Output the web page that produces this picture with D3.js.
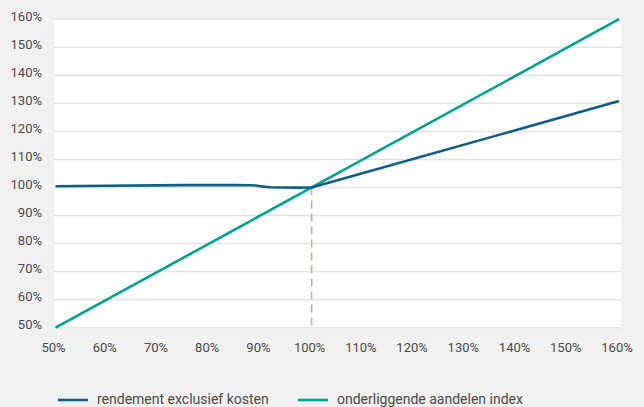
<!DOCTYPE html>
<html>
<head>
<meta charset="utf-8">
<script src="https://cdn.jsdelivr.net/npm/d3@7"></script>
<style>
  html, body { margin: 0; padding: 0; background: #f1f1f1; }
  svg { display: block; }
  text { font-family: Roboto, "Liberation Sans", sans-serif; fill: #4a4a4a; }
</style>
</head>
<body>
<svg id="chart" width="644" height="407"></svg>
<script>
// Underlying index level (x) versus outcome (y), both in percent
const xTicks = [50, 60, 70, 80, 90, 100, 110, 120, 130, 140, 150, 160];
const yTicks = [50, 60, 70, 80, 90, 100, 110, 120, 130, 140, 150, 160];

// Return excluding costs: capital protected below 100%, partial participation above
const rendementX = [50, 60, 70, 75, 80, 85, 88, 89, 90, 91, 92, 94, 97, 100, 160];
const rendementY = [100.45, 100.6, 100.75, 100.85, 100.85, 100.85, 100.8, 100.7, 100.45, 100.2, 100.08, 100.0, 99.95, 100, 130.8];

// Underlying equity index: one-to-one
const indexX = [50, 160];
const indexY = [50, 160];

const seriesNames = ["rendement exclusief kosten", "onderliggende aandelen index"];
const seriesColors = ["#0f5f84", "#00a38b"];

const svg = d3.select("#chart");
const plot = { left: 54, right: 621, top: 19, bottom: 328 };

const x = d3.scaleLinear().domain([50, 160]).range([55.5, 619]);
const y = d3.scaleLinear().domain([50, 160]).range([327.7, 19.2]);

// White plot background
svg.append("rect")
  .attr("x", plot.left).attr("y", plot.top)
  .attr("width", plot.right - plot.left).attr("height", plot.bottom - plot.top)
  .attr("fill", "#ffffff");

// Horizontal gridlines
svg.append("g").selectAll("line").data(yTicks).join("line")
  .attr("x1", plot.left).attr("x2", plot.right)
  .attr("y1", d => y(d)).attr("y2", d => y(d))
  .attr("stroke", "#e4e4e4").attr("stroke-width", 1.5);

// Y axis labels
const yAxis = d3.axisLeft(y).tickValues(yTicks).tickFormat(d => d + "%").tickSize(0).tickPadding(0);
const gy = svg.append("g").attr("transform", "translate(42,-3)").call(yAxis);
gy.select(".domain").remove();
gy.selectAll("text").style("font-size", "13px").attr("fill", "#4d4d4d");

// X axis labels (positioned on the same grid as the tick values)
const xAxis = d3.axisBottom(x).tickValues(xTicks).tickFormat(d => d + "%").tickSize(0).tickPadding(0);
const gx = svg.append("g").attr("transform", "translate(-2.5,342.5)").call(xAxis);
gx.select(".domain").remove();
gx.selectAll("text").style("font-size", "13px").attr("fill", "#4d4d4d");

// Dashed marker at 100%
svg.append("line")
  .attr("x1", x(100)).attr("x2", x(100))
  .attr("y1", y(100)).attr("y2", y(50))
  .attr("stroke", "#c4ad88").attr("stroke-width", 1.5)
  .attr("stroke-dasharray", "8,5");

const line = d3.line().x(d => x(d[0])).y(d => y(d[1])).curve(d3.curveLinear);

svg.append("path")
  .datum(indexX.map((v, i) => [v, indexY[i]]))
  .attr("d", line)
  .attr("fill", "none").attr("stroke", seriesColors[1]).attr("stroke-width", 2.6);

svg.append("path")
  .datum(rendementX.map((v, i) => [v, rendementY[i]]))
  .attr("d", line)
  .attr("fill", "none").attr("stroke", seriesColors[0]).attr("stroke-width", 2.6)
  .attr("stroke-linejoin", "round");

// Legend
const legendX = [58, 298];
const legend = svg.append("g").selectAll("g").data(seriesNames).join("g")
  .attr("transform", (d, i) => `translate(${legendX[i]},400)`);
legend.append("line")
  .attr("x1", 0).attr("x2", 30).attr("y1", 0).attr("y2", 0)
  .attr("stroke", (d, i) => seriesColors[i]).attr("stroke-width", 2.6);
legend.append("text")
  .attr("x", 39).attr("y", 3.5)
  .style("font-size", "14px")
  .text(d => d);
</script>
</body>
</html>
